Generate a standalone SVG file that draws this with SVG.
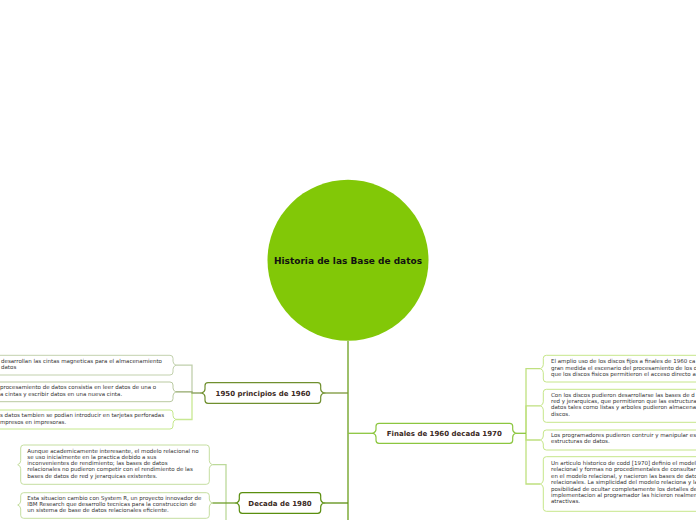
<svg xmlns="http://www.w3.org/2000/svg" width="696" height="520" viewBox="0 0 696 520">
<style>
.root{font-family:"DejaVu Sans","Verdana",sans-serif;font-weight:bold;font-size:9px;fill:#111;text-anchor:middle}
.nt{font-family:"DejaVu Sans","Verdana",sans-serif;font-weight:bold;font-size:7px;fill:#3b2a24;text-anchor:middle}
.lt{font-family:"DejaVu Sans","Verdana",sans-serif;font-size:5.5px;fill:#333}
.box{fill:#fff;stroke-width:1.2}
.leaf{fill:#fff;stroke-width:1}
.c{fill:none;stroke-width:1.3}
</style>
<rect width="696" height="520" fill="#fff"/>
<g id="connectors">
<path class="c" d="M348,341 V520" stroke="#6a9e1c" stroke-width="2"/>
<path class="c" d="M348,393 H324" stroke="#7a9638" stroke-width="1.6"/>
<path class="c" d="M348,433.3 H373" stroke="#8cc63f" stroke-width="1.6"/>
<path class="c" d="M348,503 H323.7" stroke="#5b8e12" stroke-width="1.6"/>
<path class="c" d="M192,393 V365.2 H176" stroke="#c0cfac"/>
<path class="c" d="M192,393 V419.5 H176" stroke="#c8e892"/>
<path class="c" d="M201.7,393 H192 V391.9 H176" stroke="#93a86a"/>
<path class="c" d="M526,433.3 V368.7 H540.3" stroke="#bfe07f"/>
<path class="c" d="M526,433.3 V405.8 H540.3" stroke="#bfe07f"/>
<path class="c" d="M526,433.3 V440 H540.3" stroke="#bfe07f"/>
<path class="c" d="M526,433.3 V484 H540.3" stroke="#bfe07f"/>
<path class="c" d="M515.7,433.3 H526" stroke="#8cc63f" stroke-width="1.6"/>
<path class="c" d="M226,503 V464.7 H212.3" stroke="#bcd99a"/>
<path class="c" d="M226,503 V520" stroke="#bcd99a"/>
<path class="c" d="M236.3,503 H212.3" stroke="#6f9e2a"/>
</g>
<g id="root">
<circle cx="348" cy="260.3" r="80.5" fill="#82c807"/>
<text class="root" x="348" y="263.7">Historia de las Base de datos</text>
</g>
<g id="n1950">
<path class="box" stroke="#6f8f2e" d="M208,382.7 H317.7 Q320.7,382.7 320.7,385.7 V389 Q320.7,392 324,393 Q320.7,394 320.7,397 V400.3 Q320.7,403.3 317.7,403.3 H208 Q205,403.3 205,400.3 V397 Q205,394 201.7,393 Q205,392 205,389 V385.7 Q205,382.7 208,382.7 Z"/>
<text class="nt" x="263" y="395.5">1950 principios de 1960</text>
</g>
<g id="n1950a">
<path class="leaf" stroke="#c2d1ad" d="M-17,355.3 H170 Q173,355.3 173,358.3 V361.2 Q173,364.2 176,365.2 Q173,366.2 173,369.2 V372 Q173,375 170,375 H-17 Q-20,375 -20,372 V358.3 Q-20,355.3 -17,355.3 Z"/>
<text class="lt" x="1" y="362.7">desarrollan las cintas magneticas para el almacenamiento</text>
<text class="lt" x="1" y="369">datos</text>
</g>
<g id="n1950b">
<path class="leaf" stroke="#b9c9a0" d="M-17,382 H170 Q173,382 173,385 V387.9 Q173,390.9 176,391.9 Q173,392.9 173,395.9 V398.7 Q173,401.7 170,401.7 H-17 Q-20,401.7 -20,398.7 V385 Q-20,382 -17,382 Z"/>
<text class="lt" x="0" y="389.4">procesamiento de datos consistia en leer datos de una o</text>
<text class="lt" x="0" y="395.7">a cintas y escribir datos en una nueva cinta.</text>
</g>
<g id="n1950c">
<path class="leaf" stroke="#c5e88c" d="M-17,410 H170 Q173,410 173,413 V415.5 Q173,418.5 176,419.5 Q173,420.5 173,423.5 V426 Q173,429 170,429 H-17 Q-20,429 -20,426 V413 Q-20,410 -17,410 Z"/>
<text class="lt" x="0" y="417.3">s datos tambien se podian introducir en tarjetas perforadas</text>
<text class="lt" x="0" y="423.5">mpresos en impresoras.</text>
</g>
<g id="n1960">
<path class="box" stroke="#8cc63f" d="M379,423.3 H509.7 Q512.7,423.3 512.7,426.3 V429.3 Q512.7,432.3 515.7,433.3 Q512.7,434.3 512.7,437.3 V440.3 Q512.7,443.3 509.7,443.3 H379 Q376,443.3 376,440.3 V437.3 Q376,434.3 373,433.3 Q376,432.3 376,429.3 V426.3 Q376,423.3 379,423.3 Z"/>
<text class="nt" x="444.3" y="435.8">Finales de 1960 decada 1970</text>
</g>
<g id="n1960a">
<path class="leaf" stroke="#c6e68a" d="M546.3,355.3 H717 Q720,355.3 720,358.3 V379 Q720,382 717,382 H546.3 Q543.3,382 543.3,379 V372.7 Q543.3,369.7 540.3,368.7 Q543.3,367.7 543.3,364.7 V358.3 Q543.3,355.3 546.3,355.3 Z"/>
<text class="lt" x="551" y="363.3">El amplio uso de los discos fijos a finales de 1960 ca</text>
<text class="lt" x="551" y="369.6">gran medida el escenario del procesamiento de los d</text>
<text class="lt" x="551" y="375.9">que los discos fisicos permitieron el acceso directo a</text>
</g>
<g id="n1960b">
<path class="leaf" stroke="#c6e68a" d="M546.3,389.3 H717 Q720,389.3 720,392.3 V419.3 Q720,422.3 717,422.3 H546.3 Q543.3,422.3 543.3,419.3 V409.8 Q543.3,406.8 540.3,405.8 Q543.3,404.8 543.3,401.8 V392.3 Q543.3,389.3 546.3,389.3 Z"/>
<text class="lt" x="551" y="396.7">Con los discos pudieron desarrollarse las bases de d</text>
<text class="lt" x="551" y="403">red y jerarquicas, que permitieron que las estructura</text>
<text class="lt" x="551" y="409.3">datos tales como listas y arboles pudieron almacenar</text>
<text class="lt" x="551" y="415.6">discos.</text>
</g>
<g id="n1960c">
<path class="leaf" stroke="#c6e68a" d="M546.3,430 H717 Q720,430 720,433 V447 Q720,450 717,450 H546.3 Q543.3,450 543.3,447 V444 Q543.3,441 540.3,440 Q543.3,439 543.3,436 V433 Q543.3,430 546.3,430 Z"/>
<text class="lt" x="551" y="437">Los programadores pudieron contruir y manipular es</text>
<text class="lt" x="551" y="443.3">estructuras de datos.</text>
</g>
<g id="n1960d">
<path class="leaf" stroke="#c6e68a" d="M546.3,456.7 H717 Q720,456.7 720,459.7 V508.3 Q720,511.3 717,511.3 H546.3 Q543.3,511.3 543.3,508.3 V488 Q543.3,485 540.3,484 Q543.3,483 543.3,480 V459.7 Q543.3,456.7 546.3,456.7 Z"/>
<text class="lt" x="551" y="465">Un articulo historico de codd [1970] definio el model</text>
<text class="lt" x="551" y="471.4">relacional y formas no procedimentales de consultar</text>
<text class="lt" x="551" y="477.8">en el modelo relacional, y nacieron las bases de dato</text>
<text class="lt" x="551" y="484.2">relacionales. La simplicidad del modelo relaciona y la</text>
<text class="lt" x="551" y="490.6">posibilidad de ocultar completamente los detalles de</text>
<text class="lt" x="551" y="497">implementacion al programador las hicieron realmen</text>
<text class="lt" x="551" y="503.4">atractivas.</text>
</g>
<g id="n1980">
<path class="box" stroke="#5a8e0f" d="M242.3,492.7 H317.7 Q320.7,492.7 320.7,495.7 V499 Q320.7,502 323.7,503 Q320.7,504 320.7,507 V510.3 Q320.7,513.3 317.7,513.3 H242.3 Q239.3,513.3 239.3,510.3 V507 Q239.3,504 236.3,503 Q239.3,502 239.3,499 V495.7 Q239.3,492.7 242.3,492.7 Z"/>
<text class="nt" x="280" y="505.5">Decada de 1980</text>
</g>
<g id="n1980a">
<path class="leaf" stroke="#c5dea0" d="M23.7,445 H206.3 Q209.3,445 209.3,448 V460.7 Q209.3,463.7 212.3,464.7 Q209.3,465.7 209.3,468.7 V481.3 Q209.3,484.3 206.3,484.3 H23.7 Q20.7,484.3 20.7,481.3 V468.7 Q20.7,465.7 17.7,464.7 Q20.7,463.7 20.7,460.7 V448 Q20.7,445 23.7,445 Z"/>
<text class="lt" x="27.3" y="452.5">Aunque academicamente interesante, el modelo relacional no</text>
<text class="lt" x="27.3" y="458.8">se uso inicialmente en la practica debido a sus</text>
<text class="lt" x="27.3" y="465.1">inconvenientes de rendimiento; las bases de datos</text>
<text class="lt" x="27.3" y="471.4">relacionales no pudieron competir con el rendimiento de las</text>
<text class="lt" x="27.3" y="477.7">bases de datos de red y jerarquicas existentes.</text>
</g>
<g id="n1980b">
<path class="leaf" stroke="#c5dea0" d="M23.7,492.7 H206.3 Q209.3,492.7 209.3,495.7 V499 Q209.3,502 212.3,503 Q209.3,504 209.3,507 V515.3 Q209.3,518.3 206.3,518.3 H23.7 Q20.7,518.3 20.7,515.3 V509 Q20.7,506 17.7,505 Q20.7,504 20.7,501 V495.7 Q20.7,492.7 23.7,492.7 Z"/>
<text class="lt" x="27.3" y="500">Esta situacion cambio con System R, un proyecto innovador de</text>
<text class="lt" x="27.3" y="506.2">IBM Research que desarrollo tecnicas para la construccion de</text>
<text class="lt" x="27.3" y="512.4">un sistema de base de datos relacionales eficiente.</text>
</g>
</svg>
